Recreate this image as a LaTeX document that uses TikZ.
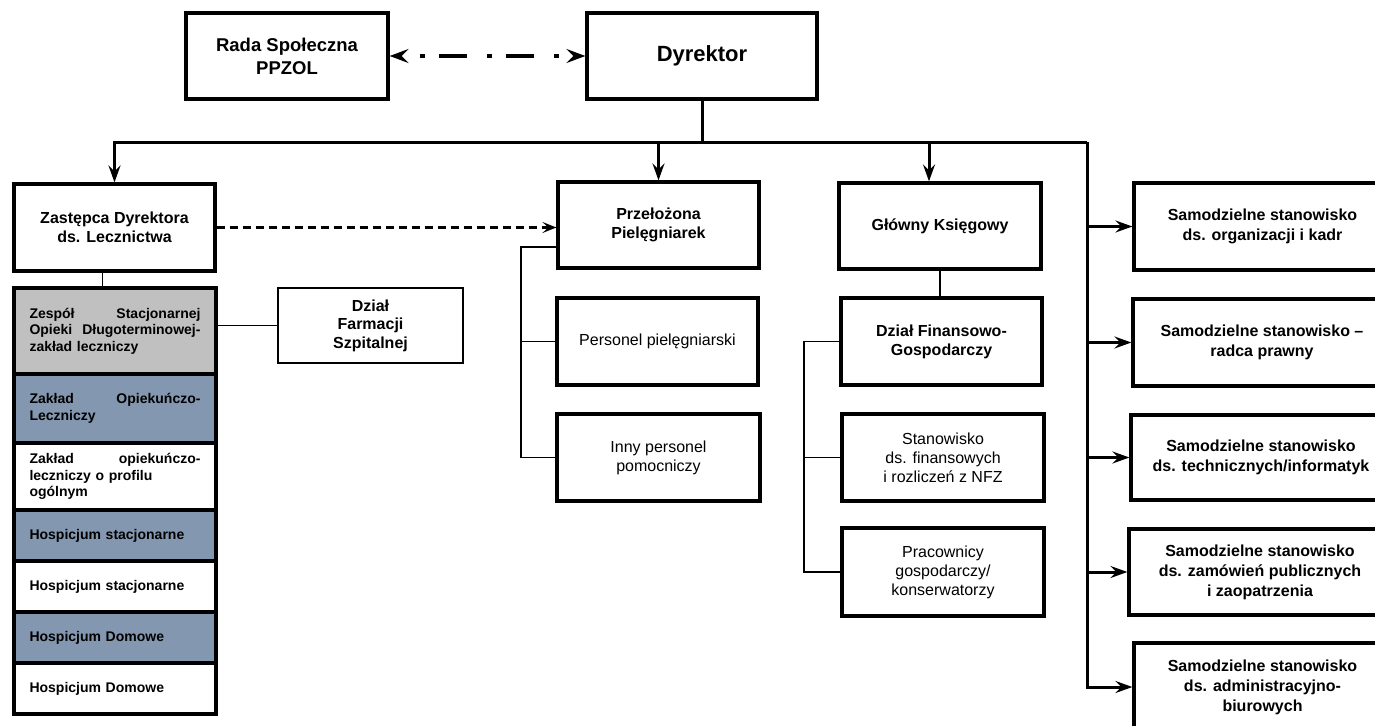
\documentclass[tikz,border=0pt]{standalone}
\usepackage{fontspec}
\setmainfont{Liberation Sans}
\usetikzlibrary{arrows.meta}
\definecolor{greyfill}{HTML}{C0C0C0}
\definecolor{bluefill}{HTML}{8497B0}
\newcommand{\justline}[2]{\makebox[171pt][l]{#1\hfill #2}}
\begin{document}
\begin{tikzpicture}[x=1pt,y=-1pt,
  box/.style={draw, line width=3.2pt, inner sep=0pt, align=center, font=\bfseries\fontsize{16}{19}\selectfont},
  plainbox/.style={box, font=\fontsize{16}{19}\selectfont},
  rbox/.style={box, font=\bfseries\fontsize{16}{20}\selectfont, minimum height=87pt},
  row/.style={draw, line width=3.2pt, inner sep=0pt, minimum width=202pt, text width=171pt, align=left, font=\bfseries\fontsize{14}{16.5}\selectfont},
  tip/.style={-{Stealth[length=17pt,width=12pt,inset=6pt]}},
  busline/.style={line width=3pt},
  thinl/.style={line width=1.7pt},
  dashdot/.style={line width=3.8pt, dash pattern=on 5pt off 14pt on 28pt off 20pt, dash phase=47pt,
     {Stealth[length=19pt,width=14pt,inset=7pt]}-{Stealth[length=19pt,width=14pt,inset=7pt]}},
  dasharr/.style={line width=2.2pt, dash pattern=on 8pt off 5pt, -{Stealth[length=14pt,width=11pt,inset=6pt]}}
]
\useasboundingbox (0,0) rectangle (1375,725);
\clip (0,0) rectangle (1375,725);
\fill[white] (0,0) rectangle (1375,725);

% top
\node[box, minimum width=202pt, minimum height=86pt, font=\bfseries\fontsize{18.5}{23}\selectfont] (rada) at (287,56) {Rada Społeczna\\PPZOL};
\node[box, minimum width=230pt, minimum height=86pt, font=\bfseries\fontsize{22}{26}\selectfont] (dyr) at (702,56) {Dyrektor};

% second level
\node[box, minimum width=201pt, minimum height=87pt] (zast) at (114.5,227.5) {Zastępca Dyrektora\\ds. Lecznictwa};
\node[box, minimum width=201pt, minimum height=86pt] (przel) at (658.5,225) {Przełożona\\Pielęgniarek};
\node[box, minimum width=202pt, minimum height=86pt] (glowny) at (940,226) {Główny Księgowy};

% nurses column
\node[plainbox, minimum width=201pt, minimum height=87pt] (pers) at (657.5,341.5) {Personel pielęgniarski};
\node[plainbox, minimum width=203pt, minimum height=87pt] (inny) at (658.5,457.5) {Inny personel\\pomocniczy};

% finance column
\node[box, minimum width=201pt, minimum height=87pt] (dzfg) at (941.5,341.5) {Dział Finansowo-\\Gospodarczy};
\node[plainbox, minimum width=202pt, minimum height=87pt] (stan) at (943,457.5) {Stanowisko\\ds. finansowych\\i rozliczeń z NFZ};
\node[plainbox, minimum width=202pt, minimum height=88pt] (prac) at (943,572) {Pracownicy\\gospodarczy/\\konserwatorzy};

% pharmacy
\node[box, line width=2.6pt, minimum width=185pt, minimum height=75pt, font=\bfseries\fontsize{16}{18.5}\selectfont] (farm) at (370.5,325.5) {Dział\\Farmacji\\Szpitalnej};

% stack
\node[row, fill=greyfill, minimum height=86pt] (s1) at (115,331) {\justline{Zespół}{Stacjonarnej}\\\justline{Opieki}{Długoterminowej-}\\zakład leczniczy};
\node[row, fill=bluefill, minimum height=69pt] (s2) at (115,408.5) {\justline{Zakład}{Opiekuńczo-}\\Leczniczy};
\node[row, fill=white, minimum height=67pt] (s3) at (115,476.5) {\justline{Zakład}{opiekuńczo-}\\leczniczy o profilu\\ogólnym};
\node[row, fill=bluefill, minimum height=51pt] (s4) at (115,535.5) {Hospicjum stacjonarne};
\node[row, fill=white, minimum height=51pt] (s5) at (115,586.5) {Hospicjum stacjonarne};
\node[row, fill=bluefill, minimum height=51pt] (s6) at (115,637.5) {Hospicjum Domowe};
\node[row, fill=white, minimum height=51pt] (s7) at (115,688.5) {Hospicjum Domowe};

% right column
\node[rbox, minimum width=257pt] (r1) at (1262.5,226.5) {Samodzielne stanowisko\\ds. organizacji i kadr};
\node[rbox, minimum width=258pt] (r2) at (1262,342.5) {Samodzielne stanowisko –\\radca prawny};
\node[rbox, minimum width=260pt, minimum height=85pt] (r3) at (1261,457.5) {Samodzielne stanowisko\\ds. technicznych/informatyk};
\node[rbox, minimum width=262pt, minimum height=86pt] (r4) at (1260,572) {Samodzielne stanowisko\\ds. zamówień publicznych\\i zaopatrzenia};
\node[rbox, minimum width=257pt, minimum height=88pt] (r5) at (1262.5,687) {Samodzielne stanowisko\\ds. administracyjno-\\biurowych};

% coordinates
\coordinate (busL) at (114.5,142);
\coordinate (busR) at (1087,142);
\coordinate (pv) at (521,0);
\coordinate (fv) at (804,0);

% connectors
\draw[dashdot] (rada.east) -- (dyr.west);
\draw[busline] (dyr.south) -- (dyr.south |- busL);
\draw[busline, tip] (busR) -- (busL) -- (zast.north);
\draw[busline, tip] (przel.north |- busL) -- (przel.north);
\draw[busline, tip] ([xshift=-11pt]glowny.north |- busL) -- ([xshift=-11pt]glowny.north);
\draw[busline, tip] (busR) -- (busR |- r5.west) -- (r5.west);
\foreach \r in {r1,r2,r3,r4}{
  \draw[busline, tip] (busR |- \r.west) -- (\r.west);
}
\draw[dasharr] (zast.east) -- (zast.east -| przel.west);

\draw[thinl] ([yshift=-22pt]przel.west) -| (pv |- inny.west) -- (inny.west);
\draw[thinl] (pv |- pers.west) -- (pers.west);

\draw[thinl] (glowny.south) -- (glowny.south |- dzfg.north);
\draw[thinl] (dzfg.west) -| (fv |- prac.west) -- (prac.west);
\draw[thinl] (fv |- stan.west) -- (stan.west);

\draw[thinl] ([xshift=-12pt]zast.south) -- ([xshift=-12pt]zast.south |- s1.north);
\draw[thinl] (farm.west -| s1.east) -- (farm.west);
\end{tikzpicture}
\end{document}
